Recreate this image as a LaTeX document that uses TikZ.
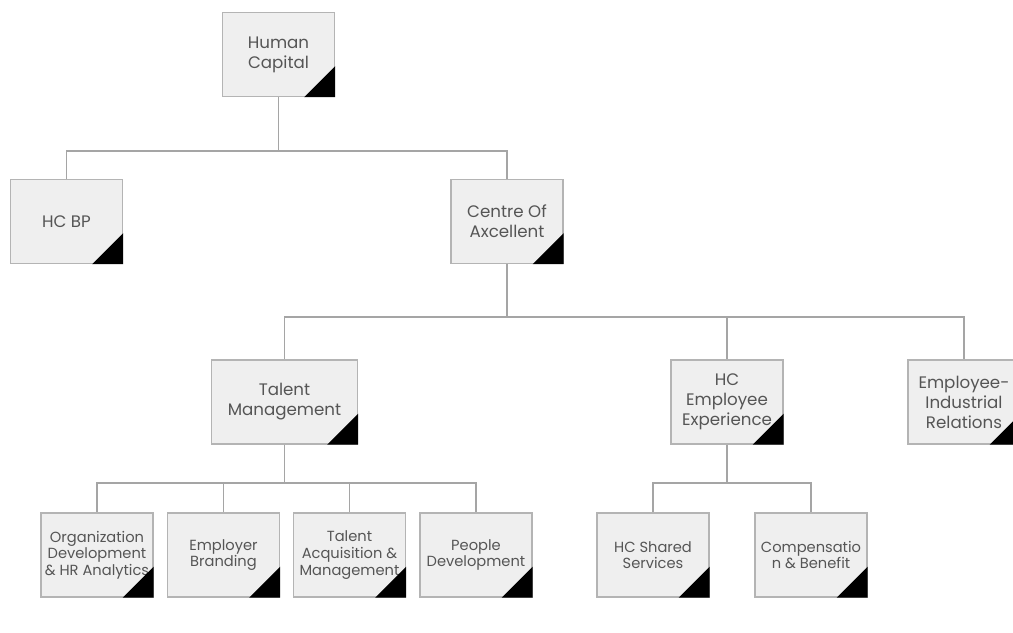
\documentclass[tikz,border=0pt]{standalone}
\usepackage{fontspec}
\setmainfont{Poppins}
\usepackage{tikz}
\usetikzlibrary{positioning}

\begin{document}
\begin{tikzpicture}[x=0.75pt,y=0.75pt,yscale=-1,xscale=1,
  unit/.style={draw={rgb, 255:red, 180; green, 180; blue, 180}, line width=1pt,
    fill={rgb, 255:red, 239; green, 239; blue, 239}, text={rgb, 255:red, 85; green, 85; blue, 85},
    minimum width=84pt, minimum height=63pt, inner sep=0.75pt, align=center},
  topunit/.style={unit, font=\fontsize{12.5}{15}\selectfont},
  subunit/.style={unit, font=\fontsize{11}{12.5}\selectfont},
  link/.style={draw={rgb, 255:red, 165; green, 165; blue, 165}, line width=0.8pt}]
\clip (0,0) rectangle (1013,632);

%Shape: Boxes level 0 and 1
\node [topunit] (hc) at (278.5,54.5) {Human\\Capital};
\node [topunit] (hcbp) at (66.5,221.5) {HC BP};
\node [topunit] (coe) at (507,221.5) {Centre Of\\Axcellent};

%Shape: Boxes level 2
\node [topunit, minimum width=109.5pt] (talent) at (284.5,402) {Talent\\Management};
\node [topunit] (hcee) at (727,402) {HC\\Employee\\Experience};
\node [topunit] (eir) at (964,402) {Employee-\\Industrial\\Relations};

%Shape: Boxes level 3
\node [subunit] (orgdev) at (97,555) {Organization\\Development\\\& HR Analytics};
\node [subunit] (brand) at (223.5,555) {Employer\\Branding};
\node [subunit] (acq) at (349.5,555) {Talent\\Acquisition \&\\Management};
\node [subunit] (people) at (476,555) {People\\Development};
\node [subunit] (shared) at (653,555) {HC Shared\\Services};
\node [subunit] (comp) at (811,555) {Compensatio\\n \& Benefit};

%Shape: Corner marks
\foreach \n in {hc,hcbp,coe,talent,hcee,eir,orgdev,brand,acq,people,shared,comp}
  \fill [black] (\n.south east) -- ++(-31,0) -- ++(31,-31) -- cycle;

%Straight Lines
\coordinate (bus0) at (278.5,151);
\coordinate (bus1) at (507,317);
\coordinate (bus2) at (284.5,483);
\coordinate (bus3) at (727,483);
\draw [link] (hc.south) -- (bus0);
\draw [link] (bus0) -| (hcbp.north);
\draw [link] (bus0) -| (coe.north);
\draw [link] (coe.south) -- (bus1);
\draw [link] (bus1) -| (talent.north);
\draw [link] (bus1) -| (hcee.north);
\draw [link] (bus1) -| (eir.north);
\draw [link] (talent.south) -- (bus2);
\foreach \n in {orgdev,brand,acq,people}
  \draw [link] (bus2) -| (\n.north);
\draw [link] (hcee.south) -- (bus3);
\foreach \n in {shared,comp}
  \draw [link] (bus3) -| (\n.north);

\end{tikzpicture}
\end{document}
